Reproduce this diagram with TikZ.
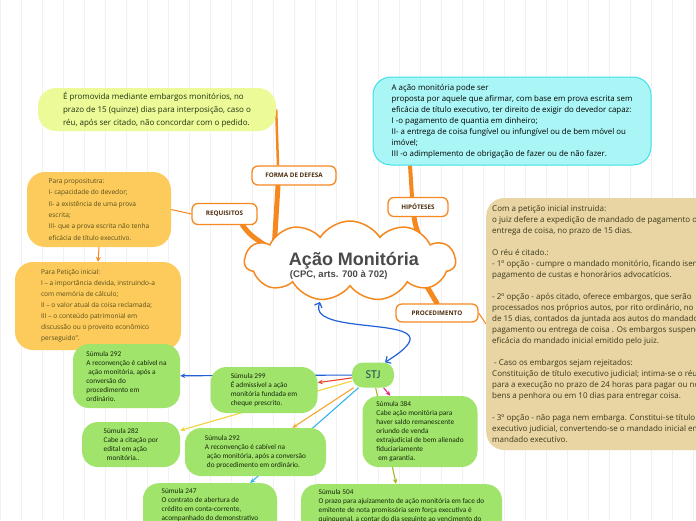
\documentclass[tikz,border=0pt]{standalone}
\usepackage{fontspec}
\setmainfont{Open Sans}
\newfontfamily\sumfont{Carlito}
\newfontfamily\titfont{Liberation Sans}
\usepackage{tikz}
\usetikzlibrary{arrows.meta,shapes.symbols}
\usepackage{xcolor}
\definecolor{MapOrange}{RGB}{245,137,31}
\definecolor{MapGreen}{RGB}{160,228,108}
\definecolor{MapYellow}{RGB}{253,203,92}
\definecolor{MapLime}{RGB}{237,250,152}
\definecolor{MapCyan}{RGB}{170,246,246}
\definecolor{MapCyanLine}{RGB}{62,224,234}
\definecolor{MapTan}{RGB}{232,213,163}
\definecolor{MapGrid}{RGB}{241,241,241}
\definecolor{LabelText}{RGB}{77,44,12}
\definecolor{TitleGray}{RGB}{74,74,74}
\definecolor{DefesaText}{RGB}{30,50,16}
\definecolor{ReqText}{RGB}{86,78,26}
\definecolor{TanText}{RGB}{60,56,28}
\definecolor{SumulaText}{RGB}{24,40,10}
\definecolor{StjText}{RGB}{35,77,90}
\definecolor{LinkBlue}{RGB}{33,96,216}
\definecolor{LinkRed}{RGB}{232,69,44}
\definecolor{LinkYellow}{RGB}{242,212,58}
\definecolor{LinkOrange}{RGB}{247,165,48}
\definecolor{LinkCyan}{RGB}{52,180,240}
\definecolor{LinkPink}{RGB}{232,40,124}
\definecolor{LinkOlive}{RGB}{169,182,35}
\pgfdeclarelayer{bg}
\pgfsetlayers{bg,main}

\begin{document}
\begin{tikzpicture}[x=1pt,y=-1pt,
tag/.style={rectangle,rounded corners=6pt,draw=MapOrange,line width=1.3pt,fill=white,
minimum height=19pt,inner sep=2pt,font=\fontsize{6.3}{7}\selectfont\bfseries,text=LabelText},
note/.style={rectangle,rounded corners=18pt,align=left,inner sep=0pt},
sumula/.style={rectangle,rounded corners=16pt,fill=MapGreen,align=left,inner sep=0pt,
font=\sumfont\fontsize{7.3}{9}\selectfont,text=SumulaText},
branch/.style={draw=MapOrange,line width=5pt,line cap=round},
twig/.style={draw=MapOrange,line width=1pt},
link/.style={-{Stealth[length=5pt,width=4.5pt]},line width=1.1pt}
]
\useasboundingbox (0,0) rectangle (696,520);
\clip (0,0) rectangle (696,520);
\begin{pgfonlayer}{bg}
\fill[white] (0,0) rectangle (696,520);
\draw[MapGrid,line width=0.6pt,step=21] (0,0) grid (696,520);
\end{pgfonlayer}

% centro
\node[cloud,cloud puffs=11,cloud puff arc=115,aspect=2.7,draw=MapOrange,line width=1.5pt,
fill=white,minimum width=211pt,minimum height=80pt,inner sep=0pt] (acao) at (350,261) {};
\node[align=left,text=TitleGray,inner sep=0pt,font=\titfont\bfseries] (titulo) at (354,266)
{\fontsize{18}{19}\selectfont Ação Monitória\\[0pt]
\fontsize{9.5}{11}\selectfont \hspace{1pt}(CPC, arts. 700 à 702)};
\coordinate (acao-n) at (274,250);
\coordinate (acao-w) at (275,252);
\coordinate (acao-e) at (425,250);
\coordinate (acao-se) at (420,275);
\coordinate (acao-s) at (320,302);

% ramos
\node[tag,minimum width=84pt] (forma) at (294,175.5) {FORMA DE DEFESA};
\node[tag,minimum width=65pt,minimum height=21pt] (reqtag) at (224.5,214) {REQUISITOS};
\node[tag,minimum width=60pt] (hiptag) at (418,207) {HIPÓTESES};
\node[tag,minimum width=82pt,minimum height=18pt] (proctag) at (437,313) {PROCEDIMENTO};

% textos
\node[note,fill=MapLime,minimum width=238pt,minimum height=43pt,text=DefesaText,
font=\fontsize{8}{13}\selectfont] (defesa) at (157,109.5)
{É promovida mediante embargos monitórios, no\\
prazo de 15 (quinze) dias para interposição, caso o\\
réu, após ser citado, não concordar com o pedido.};
\node[note,fill=MapCyan,draw=MapCyanLine,line width=1pt,minimum width=278pt,minimum height=88pt,
font=\fontsize{7.9}{11}\selectfont] (hipbox) at (512,121)
{A ação monitória pode ser\\
proposta por aquele que afirmar, com base em prova escrita sem\\
eficácia de título executivo, ter direito de exigir do devedor capaz:\\
I -o pagamento de quantia em dinheiro;\\
II- a entrega de coisa fungível ou infungível ou de bem móvel ou\\
imóvel;\\
III -o adimplemento de obrigação de fazer ou de não fazer.};
\node[note,fill=MapYellow,minimum width=144pt,minimum height=75pt,text=ReqText,
font=\fontsize{6.6}{11.3}\selectfont] (reqbox) at (99,209.5)
{Para propositutra:\\
I- capacidade do devedor;\\
II- a existência de uma prova\\
escrita;\\
III- que a prova escrita não tenha\\
eficácia de título executivo.};
\node[note,fill=MapYellow,minimum width=166pt,minimum height=88pt,text=ReqText,
font=\fontsize{6.6}{11}\selectfont] (petbox) at (98,306)
{Para Petição inicial:\\
I – a importância devida, instruindo-a\\
com memória de cálculo;\\
II – o valor atual da coisa reclamada;\\
III – o conteúdo patrimonial em\\
discussão ou o proveito econômico\\
perseguido”.};
\node[note,fill=MapTan,anchor=west,minimum height=252pt,inner xsep=6pt,text=TanText,
font=\fontsize{8}{11}\selectfont] (tanbox) at (486,324)
{Com a petição inicial instruida:\\
o juiz defere a expedição de mandado de pagamento ou\\
entrega de coisa, no prazo de 15 dias.\\[11pt]
O réu é citado.:\\
- 1º opção - cumpre o mandado monitório, ficando isento do\\
pagamento de custas e honorários advocatícios.\\[11pt]
- 2º opção - após citado, oferece embargos, que serão\\
processados nos próprios autos, por rito ordinário, no prazo\\
de 15 dias, contados da juntada aos autos do mandado de\\
pagamento ou entrega de coisa . Os embargos suspendem a\\
eficácia do mandado inicial emitido pelo juiz.\\[11pt]
\hspace{2pt}- Caso os embargos sejam rejeitados:\\
Constituição de título executivo judicial; intima-se o réu\\
para a execução no prazo de 24 horas para pagar ou nomear\\
bens a penhora ou em 10 dias para entregar coisa.\\[11pt]
- 3º opção - não paga nem embarga. Constitui-se título\\
executivo judicial, convertendo-se o mandado inicial em\\
mandado executivo.};

% STJ
\node[sumula,rounded corners=11pt,minimum width=42pt,minimum height=25pt,text=StjText,
font=\sumfont\fontsize{12}{12}\selectfont] (stj) at (373,375) {STJ};
\node[sumula,minimum width=107pt,minimum height=64pt] (s292a) at (126.5,376)
{Súmula 292\\
A reconvenção é cabível na\\
\hspace{2pt}ação monitória, após a\\
conversão do\\
procedimento em\\
ordinário.};
\node[sumula,minimum width=107pt,minimum height=46pt] (s299) at (264,390)
{Súmula 299\\
É admissível a ação\\
monitória fundada em\\
cheque prescrito.};
\node[sumula,minimum width=98pt,minimum height=45pt] (s282) at (131,444.5)
{Súmula 282\\
Cabe a citação por\\
edital em ação\\
\hspace{3pt}monitória..};
\node[sumula,minimum width=141pt,minimum height=48pt] (s292b) at (255.5,452)
{Súmula 292\\
A reconvenção é cabível na\\
\hspace{2pt}ação monitória, após a conversão\\
\hspace{2pt}do procedimento em ordinário.};
\node[sumula,minimum width=115pt,minimum height=71pt] (s384) at (420,431.5)
{Súmula 384\\
Cabe ação monitória para\\
haver saldo remanescente\\
oriundo de venda\\
extrajudicial de bem alienado\\
fiduciariamente\\
\hspace{2pt}em garantia.};
\node[sumula,anchor=north,minimum width=134pt,inner ysep=5pt] (s247) at (210,483)
{Súmula 247\\
O contrato de abertura de\\
crédito em conta-corrente,\\
acompanhado do demonstrativo\\
de débito, constitui documento\\
hábil para o ajuizamento da\\
ação monitória.};
\node[sumula,anchor=north,minimum width=201pt,inner ysep=5pt] (s504) at (401.5,484)
{Súmula 504\\
O prazo para ajuizamento de ação monitória em face do\\
emitente de nota promissória sem força executiva é\\
quinquenal, a contar do dia seguinte ao vencimento do\\
título.};

\begin{pgfonlayer}{bg}
\draw[branch] ([xshift=-16pt]forma.south) -- (acao-n);
\draw[branch] ([xshift=18pt]reqtag.south) .. controls (250,235) .. (acao-w);
\draw[branch] ([xshift=-4pt]hiptag.south) .. controls (416,228) .. (acao-e);
\draw[branch] (acao-se) -- (proctag.north);
\draw[twig,line width=2.5pt] ([xshift=-16pt]forma.north) -- (defesa.east);
\draw[twig,line width=4pt] ([xshift=-6pt]hiptag.north) -- ([xshift=-102pt]hipbox.south);
\draw[twig] (reqtag.west) -- (reqbox.east);
\draw[twig,-{Stealth[length=5pt,width=5pt]}] (reqbox.south) -- (petbox.north);
\draw[twig] (proctag.east) -- (tanbox.west);
\draw[link,LinkBlue] (stj) -- (s292a);
\draw[link,LinkRed] (stj) -- (s299);
\draw[link,LinkYellow] (stj) -- (s282);
\draw[link,LinkOrange] (stj) -- (s292b);
\draw[link,LinkCyan] (stj) -- (s247);
\draw[link,LinkPink] (stj) -- (s384);
\draw[link,LinkOlive] (stj) -- (s504);
\end{pgfonlayer}
\draw[{Straight Barb[length=4pt]}-{Straight Barb[length=4pt]},line width=1.2pt,LinkBlue]
(acao-s) .. controls (305,340) and (470,310) .. ([xshift=12pt]stj.north);
\end{tikzpicture}
\end{document}
